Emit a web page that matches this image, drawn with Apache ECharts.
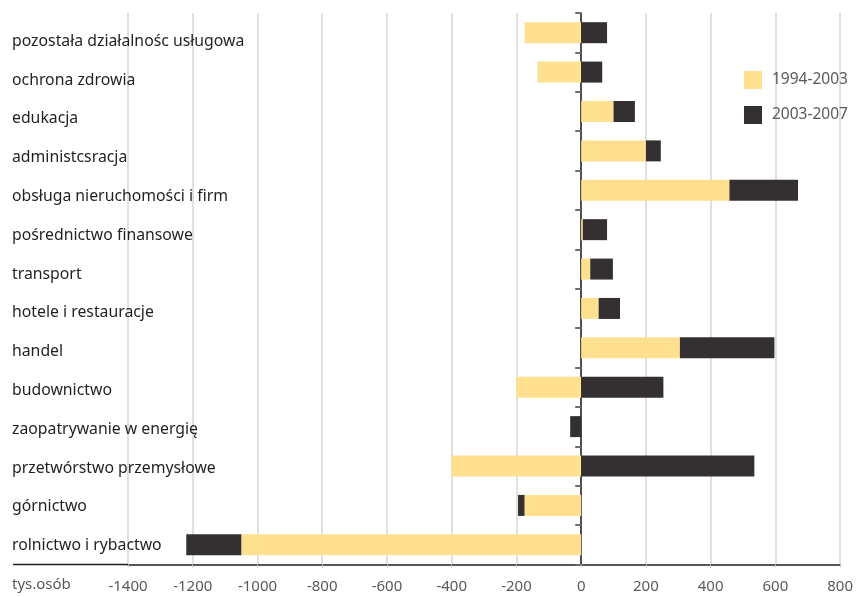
<!DOCTYPE html>
<html>
<head>
<meta charset="utf-8">
<script src="https://cdn.jsdelivr.net/npm/echarts@6/dist/echarts.min.js"></script>
<style>
html,body{margin:0;padding:0;background:#fff;}
#chart{width:856px;height:597px;}
</style>
</head>
<body>
<div id="chart"></div>
<script>
// Categories listed bottom to top (category axis runs upward)
const categories = [
  'rolnictwo i rybactwo',
  'górnictwo',
  'przetwórstwo przemysłowe',
  'zaopatrywanie w energię',
  'budownictwo',
  'handel',
  'hotele i restauracje',
  'transport',
  'pośrednictwo finansowe',
  'obsługa nieruchomości i firm',
  'administcsracja',
  'edukacja',
  'ochrona zdrowia',
  'pozostała działalnośc usługowa'
];
const series1994_2003 = [-1050, -175, -400, 0, -200, 305, 54, 28, 5, 458, 200, 100, -135, -175];
const series2003_2007 = [-170, -20, 535, -34, 254, 292, 66, 70, 75, 212, 46, 66, 65, 80];
const seriesNames = ['1994-2003', '2003-2007'];
const axisMin = -1400, axisMax = 800, axisStep = 200;
const unitLabel = 'tys.osób';

const FONT = 'Noto Sans';
const chart = echarts.init(document.getElementById('chart'), null, {renderer: 'canvas'});
chart.setOption({
  animation: false,
  backgroundColor: '#ffffff',
  textStyle: {fontFamily: FONT},
  grid: [
    {left: 128, right: 13, top: 13, bottom: 32.5, containLabel: false},
    {left: 128, right: 13, top: 22, bottom: 32, containLabel: false}
  ],
  legend: {
    orient: 'vertical', left: 744, top: 71, padding: 0,
    itemWidth: 18, itemHeight: 18, itemGap: 17,
    icon: 'rect',
    textStyle: {color: '#58595b', fontSize: 15.5, fontFamily: FONT, padding: [0, 0, 0, 5]},
    data: seriesNames
  },
  xAxis: [
    {
      gridIndex: 0, type: 'value', min: axisMin, max: axisMax, interval: axisStep,
      axisLine: {show: true, onZero: false, lineStyle: {color: '#231f20', width: 1.5}},
      axisTick: {show: true, length: 3, lineStyle: {color: '#cccccc'}},
      axisLabel: {color: '#58595b', fontSize: 15, margin: 15, fontFamily: FONT,
                  formatter: v => String(v)},
      splitLine: {show: true, lineStyle: {color: '#d6d6d6', width: 1.5}}
    },
    {
      gridIndex: 1, type: 'value', min: axisMin, max: axisMax, show: false
    }
  ],
  yAxis: [
    {
      gridIndex: 0, type: 'category', data: categories,
      axisLine: {show: true, onZero: true, lineStyle: {color: '#231f20', width: 1.5}},
      axisTick: {show: true, length: 6, lineStyle: {color: '#6d6e71', width: 2}},
      axisLabel: {show: false},
      splitLine: {show: false}
    },
    {
      gridIndex: 1, type: 'category', data: categories, position: 'left',
      axisLine: {show: false, onZero: false}, axisTick: {show: false},
      axisLabel: {align: 'left', margin: 116, color: '#231f20', fontSize: 15.8, fontFamily: FONT},
      splitLine: {show: false}
    }
  ],
  series: [
    {
      name: seriesNames[0], type: 'bar', stack: 'total', xAxisIndex: 0, yAxisIndex: 0,
      barWidth: 21, data: series1994_2003,
      itemStyle: {color: '#fee08f'}
    },
    {
      name: seriesNames[1], type: 'bar', stack: 'total', xAxisIndex: 0, yAxisIndex: 0,
      barWidth: 21, data: series2003_2007,
      itemStyle: {color: '#343031'}
    }
  ],
  graphic: [
    {type: 'line', shape: {x1: 13, y1: 564.5, x2: 128, y2: 564.5}, style: {stroke: '#231f20', lineWidth: 1.5}, z: 10},
    {type: 'text', x: 12, y: 585, style: {text: unitLabel, fill: '#58595b', font: '15px "Noto Sans"', verticalAlign: 'middle', textVerticalAlign: 'middle'}}
  ]
});
</script>
</body>
</html>
